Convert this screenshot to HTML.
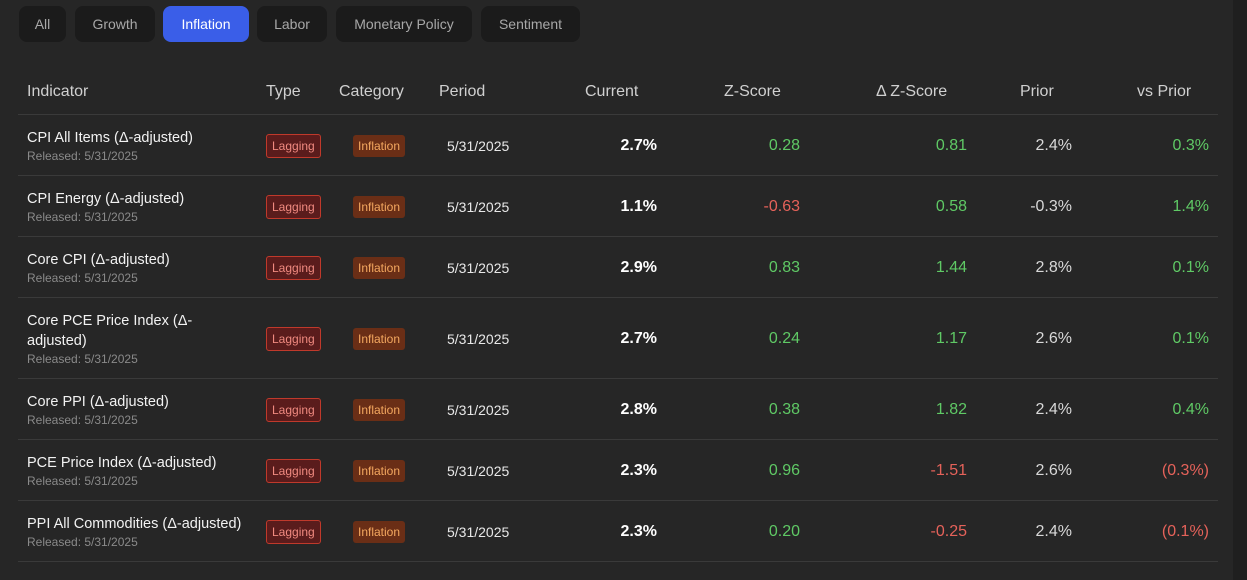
<!DOCTYPE html>
<html><head><meta charset="utf-8"><style>
*{box-sizing:border-box;margin:0;padding:0}
body{width:1247px;height:580px;background:#262626;font-family:"Liberation Sans",sans-serif;overflow:hidden;position:relative;color:#eee}
.tab{position:absolute;top:6px;height:36px;border-radius:8px;background:#1b1b1b;color:#a8a8a8;font-size:14px;line-height:36px;text-align:center}
.tab.active{background:#3a5ee8;color:#fff}
.h{position:absolute;top:83px;font-size:16px;color:#d0d0d0}
.line{position:absolute;left:18px;width:1200px;height:1px;background:#3a3a3a}
.row{position:absolute;left:0;width:1247px}
.c{position:absolute;top:50%;transform:translateY(-50%);font-size:15px}
.r{text-align:right}
.name{font-size:14.5px;color:#f2f2f2;white-space:pre-line;line-height:20px}
.rel{font-size:12px;color:#8a8a8a;line-height:16px}
.badge{font-size:12px;height:24px;line-height:22px;padding:0 5px;border-radius:3px}
.lag{border:1px solid #c0392b;background:#5a1c1c;color:#f08a80}
.inf{background:#6a2e16;color:#f4a860;height:22px;line-height:22px}
.pos{color:#5fc965}.neg{color:#e5625a}
.scroll{position:absolute;right:0;top:0;width:14px;height:580px;background:#1f1f1f}
</style></head><body>
<div class="scroll"></div>
<div class="tab" style="left:19px;width:47px">All</div>
<div class="tab" style="left:75px;width:80px">Growth</div>
<div class="tab active" style="left:163px;width:86px">Inflation</div>
<div class="tab" style="left:257px;width:70px">Labor</div>
<div class="tab" style="left:336px;width:136px">Monetary Policy</div>
<div class="tab" style="left:481px;width:99px">Sentiment</div>

<div class="h" style="left:27px">Indicator</div>
<div class="h" style="left:266px">Type</div>
<div class="h" style="left:339px">Category</div>
<div class="h" style="left:439px">Period</div>
<div class="h" style="left:585px">Current</div>
<div class="h" style="left:724px">Z-Score</div>
<div class="h" style="left:876px">Δ Z-Score</div>
<div class="h" style="left:1020px">Prior</div>
<div class="h" style="left:1137px">vs Prior</div>
<div class="line" style="top:114px"></div>
<div id="tbl"></div>
<script>
const names=["CPI All Items (Δ-adjusted)","CPI Energy (Δ-adjusted)","Core CPI (Δ-adjusted)","Core PCE Price Index (Δ-\nadjusted)","Core PPI (Δ-adjusted)","PCE Price Index (Δ-adjusted)","PPI All Commodities (Δ-adjusted)"];
const current=["2.7%","1.1%","2.9%","2.7%","2.8%","2.3%","2.3%"];
const zscore=[0.28,-0.63,0.83,0.24,0.38,0.96,0.20];
const dz=[0.81,0.58,1.44,1.17,1.82,-1.51,-0.25];
const prior=["2.4%","-0.3%","2.8%","2.6%","2.4%","2.6%","2.4%"];
const vsPrior=[0.3,1.4,0.1,0.1,0.4,-0.3,-0.1];
const tbl=document.getElementById('tbl');
let y=115;
names.forEach((n,i)=>{
  const h=n.includes("\n")?81:61;
  const row=document.createElement('div');
  row.className='row';row.style.top=y+'px';row.style.height=h+'px';
  
  
  const vp=vsPrior[i];
  row.innerHTML=
   `<div class="c" style="left:27px"><div class="name">${n}</div><div class="rel">Released: 5/31/2025</div></div>`+
   `<div class="c badge lag" style="left:266px">Lagging</div>`+
   `<div class="c badge inf" style="left:353px">Inflation</div>`+
   `<div class="c" style="left:447px;font-size:14px;color:#e8e8e8">5/31/2025</div>`+
   `<div class="c r" style="right:${1247-657}px;font-size:16px;font-weight:600;color:#fff">${current[i]}</div>`+
   `<div class="c r ${zscore[i]<0?'neg':'pos'}" style="right:${1247-800}px;font-size:16px">${zscore[i].toFixed(2)}</div>`+
   `<div class="c r ${dz[i]<0?'neg':'pos'}" style="right:${1247-967}px;font-size:16px">${dz[i].toFixed(2)}</div>`+
   `<div class="c r" style="right:${1247-1072}px;font-size:16px;color:#d8d8d8">${prior[i]}</div>`+
   `<div class="c r ${vp<0?'neg':'pos'}" style="right:${1247-1209}px;font-size:16px">${vp<0?'('+Math.abs(vp).toFixed(1)+'%)':vp.toFixed(1)+'%'}</div>`;
  tbl.appendChild(row);
  y+=h;
  const ln=document.createElement('div');
  ln.className='line';ln.style.top=(y-1)+'px';
  
  
  tbl.appendChild(ln);
});
</script>
</body></html>
